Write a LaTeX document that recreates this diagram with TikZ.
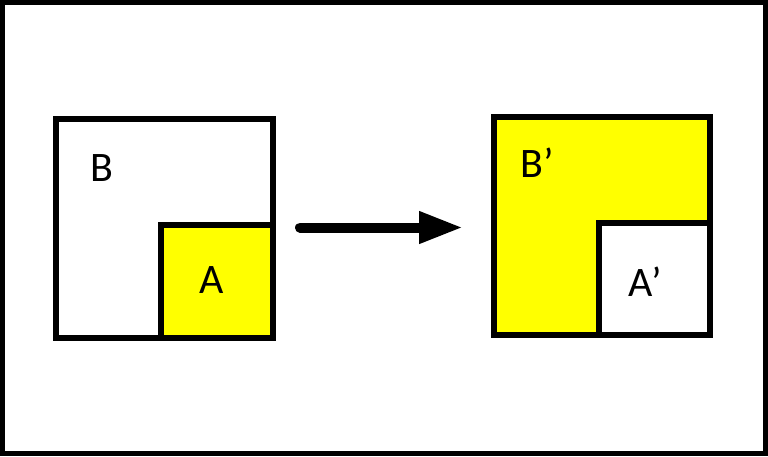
\documentclass[tikz,border=0pt]{standalone}
\usepackage{fontspec}
\setmainfont{Carlito}
\usetikzlibrary{arrows.meta}
\definecolor{hiyel}{RGB}{255,255,0}
\begin{document}
\begin{tikzpicture}[x=1pt,y=-1pt,
  box/.style={draw=black,line width=6pt,line join=miter,outer sep=0pt,inner sep=0pt,anchor=north west},
  lbl/.style={font=\fontsize{42}{42}\selectfont,inner sep=0pt},
  frame/.style={draw=black,line width=5pt}]
\useasboundingbox (0,0) rectangle (768,456);
\draw[frame] (2.5,2.5) rectangle (765.5,453.5);
% left pair
\node[box,fill=white,minimum width=217.5pt,minimum height=219pt] (B) at (55.5,119) {};
\node[box,fill=hiyel,minimum width=112pt,minimum height=113pt] (A) at (161,225) {};
\node[lbl] (Bl) at (102,168) {B};
\node[lbl] (Al) at (212,280) {A};
% right pair
\node[box,fill=hiyel,minimum width=216pt,minimum height=218.5pt] (Bp) at (494,116.5) {};
\node[box,fill=white,minimum width=111pt,minimum height=112pt] (Ap) at (599,223) {};
\node[lbl] (Bpl) at (537,163) {B’};
\node[lbl] (Apl) at (645,282) {A’};
% arrow
\coordinate (s) at (300,227.5);
\coordinate (e) at (463,227.5);
\draw[line width=10pt,line cap=round,-{Triangle[length=44pt,width=30pt]}] (s) -- (e);
\end{tikzpicture}
\end{document}
